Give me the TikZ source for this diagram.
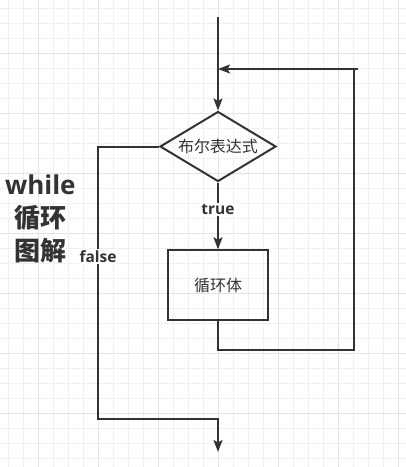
\documentclass[tikz,border=0pt]{standalone}
\usepackage{fontspec}
\setmainfont{Open Sans}
\newfontfamily\cjk{Noto Sans CJK SC}
\usetikzlibrary{shapes.geometric,arrows.meta}
\definecolor{ink}{HTML}{333333}
\definecolor{gridminor}{HTML}{F0F0F0}
\definecolor{gridmajor}{HTML}{E3E3E3}
\begin{document}
\begin{tikzpicture}[x=1pt,y=-1pt,
  every node/.style={text=ink},
  ln/.style={draw=ink, line width=2pt},
  arr/.style={ln, -{Stealth[length=12pt,width=9pt,inset=2.5pt]}},
  lbl/.style={fill=white, inner xsep=2pt, inner ysep=1.5pt, font=\fontsize{15.5}{18}\selectfont\bfseries},
  cond/.style={ln, shape=diamond, shape aspect=1.657, minimum width=116pt, minimum height=70pt, inner sep=0pt, font=\fontsize{16}{19}\selectfont\cjk},
  body/.style={ln, shape=rectangle, minimum width=100pt, minimum height=70pt, inner sep=0pt, font=\fontsize{16}{19}\selectfont\cjk},
  titletxt/.style={font=\fontsize{26}{30}\selectfont\bfseries, inner sep=0pt},
  minorgrid/.style={draw=gridminor, line width=1pt},
  majorgrid/.style={draw=gridmajor, line width=1pt}
]
\useasboundingbox (0,0) rectangle (406,467);
\fill[white] (0,0) rectangle (406,467);
% grid
\foreach \x in {8.5,23.5,...,406} \draw[minorgrid] (\x,0) -- (\x,467);
\foreach \y in {8.5,23.5,...,467} \draw[minorgrid] (0,\y) -- (406,\y);
\foreach \x in {38.5,98.5,...,406} \draw[majorgrid] (\x,0) -- (\x,467);
\foreach \y in {53.5,113.5,...,467} \draw[majorgrid] (0,\y) -- (406,\y);

% nodes
\node[cond] (cond) at (218,146.5) {布尔表达式};
\node[body] (body) at (218,285.3) {循环体};

% coordinates
\coordinate (start) at (218,17);
\coordinate (join) at (218,69);
\coordinate (loopbr) at (354,350);
\coordinate (looptr) at (354,69);
\coordinate (looptr2) at (358,69);
\coordinate (fcorner) at (98,419);
\coordinate (exit) at (218,452);

% connectors
\draw[arr] (start) -- (cond.north);
\draw[arr] (cond.south) -- (body.north);
\draw[ln] (body.south) |- (loopbr) -- (looptr);
\draw[arr] (looptr2) -- (join);
\draw[arr] (cond.west) -| (fcorner) -| (exit);

% labels
\node[lbl] (truelbl) at (218,209.5) {true};
\node[lbl] (falselbl) at (98,256.5) {false};

% title
\node[titletxt, anchor=base] (title1) at (40.3,194) {while};
\node[titletxt] (title2) at (40.3,217.5) {\cjk 循环};
\node[titletxt] (title3) at (40.3,250.5) {\cjk 图解};
\end{tikzpicture}
\end{document}
